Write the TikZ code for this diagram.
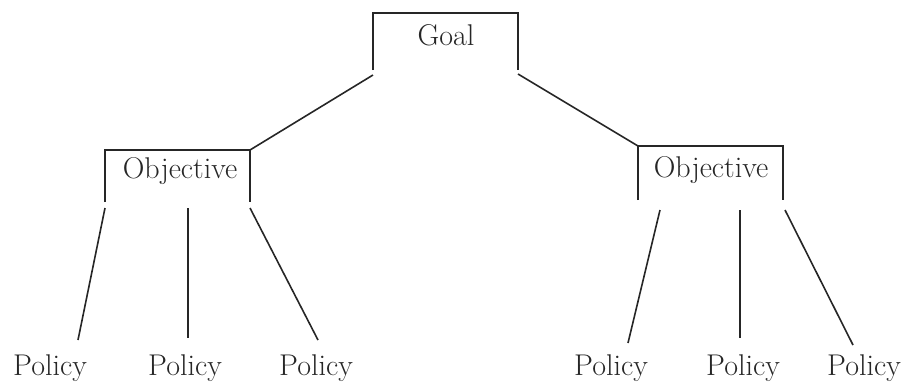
\documentclass[tikz,border=0pt]{standalone}
\begin{document}
\begin{tikzpicture}[x=1pt,y=-1pt,
  wire/.style={line width=1.6pt,draw=black!85},
  lbl/.style={font=\fontsize{30}{33}\selectfont,text=black!85,inner sep=0pt,anchor=base}]
\useasboundingbox (0,0) rectangle (903,384);

% bracket corners
\coordinate (gTL) at (373,13);  \coordinate (gTR) at (518,13);
\coordinate (gBL) at (373,70);  \coordinate (gBR) at (518,70);
\coordinate (lTL) at (105,150); \coordinate (lTR) at (250,150);
\coordinate (lBL) at (105,202); \coordinate (lBR) at (250,202);
\coordinate (rTL) at (638,146); \coordinate (rTR) at (783,146);
\coordinate (rBL) at (638,200); \coordinate (rBR) at (783,200);

% connector ends
\coordinate (gL) at (373,75);   \coordinate (gR) at (518,74);
\coordinate (l1) at (105,208);  \coordinate (l2) at (188,208); \coordinate (l3) at (250,208);
\coordinate (r1) at (660,210);  \coordinate (r2) at (740,210); \coordinate (r3) at (785,210);
\coordinate (p1t) at (78,340);  \coordinate (p2t) at (188,338); \coordinate (p3t) at (318,340);
\coordinate (p4t) at (628,343); \coordinate (p5t) at (740,338); \coordinate (p6t) at (853,345);

% labels
\node[lbl] (goal) at (446,45) {Goal};
\node[lbl] (objL) at (180,178) {Objective};
\node[lbl] (objR) at (711,177) {Objective};
\node[lbl] (p1) at (50,375) {Policy};
\node[lbl] (p2) at (185,375) {Policy};
\node[lbl] (p3) at (316,375) {Policy};
\node[lbl] (p4) at (611,375) {Policy};
\node[lbl] (p5) at (743,375) {Policy};
\node[lbl] (p6) at (864,375) {Policy};

% brackets
\draw[wire] (gBL) -- (gTL) -- (gTR) -- (gBR);
\draw[wire] (lBL) -- (lTL) -- (lTR) -- (lBR);
\draw[wire] (rBL) -- (rTL) -- (rTR) -- (rBR);

% connectors
\draw[wire] (gL) -- (lTR);
\draw[wire] (gR) -- (rTL);
\draw[wire] (l1) -- (p1t);
\draw[wire] (l2) -- (p2t);
\draw[wire] (l3) -- (p3t);
\draw[wire] (r1) -- (p4t);
\draw[wire] (r2) -- (p5t);
\draw[wire] (r3) -- (p6t);
\end{tikzpicture}
\end{document}
